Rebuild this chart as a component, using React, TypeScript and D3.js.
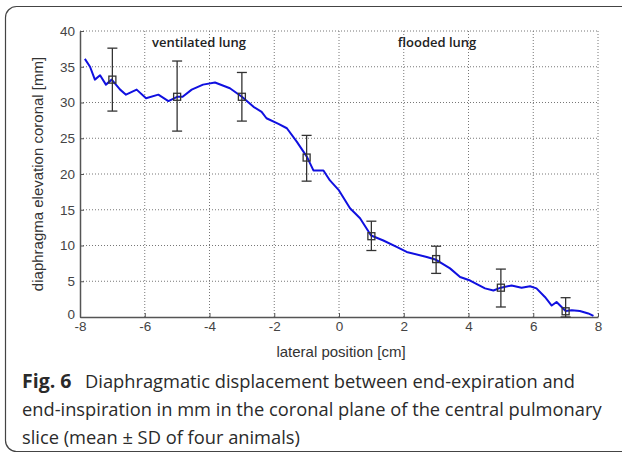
import { useEffect, useRef } from 'react';
import * as d3 from 'd3';

// blue profile line
const curveX = [-7.85, -7.69, -7.54, -7.38, -7.2, -7.02, -6.76, -6.58, -6.25, -5.96, -5.58, -5.27, -5.0, -4.83, -4.55, -4.2, -3.83, -3.37, -3.0, -2.64, -2.39, -2.24, -1.87, -1.61, -1.3, -0.99, -0.79, -0.48, -0.28, 0, 0.34, 0.65, 0.99, 1.37, 1.78, 2.09, 2.71, 3.0, 3.43, 3.74, 4.05, 4.51, 4.77, 5.0, 5.33, 5.64, 5.9, 6.1, 6.36, 6.57, 6.72, 7.0, 7.19, 7.44, 7.7, 7.86];
const curveY = [36.1, 35.0, 33.2, 33.8, 32.5, 33.2, 31.8, 31.1, 31.8, 30.6, 31.1, 30.2, 30.8, 30.8, 31.8, 32.5, 32.8, 32.0, 30.8, 29.4, 28.7, 27.8, 27.0, 26.4, 24.5, 22.4, 20.5, 20.5, 19.1, 17.7, 15.2, 13.8, 11.4, 10.7, 9.8, 9.1, 8.4, 8.0, 6.8, 5.6, 5.1, 4.0, 3.7, 4.1, 4.4, 4.1, 4.3, 4.0, 2.8, 1.6, 2.1, 0.85, 0.95, 0.85, 0.5, 0.15];

// mean ± SD markers
const markerX = [-7, -5, -3, -1, 1, 3, 5, 7];
const markerMean = [33.2, 30.8, 30.8, 22.3, 11.3, 8.1, 4.1, 0.8];
const markerHigh = [37.6, 35.8, 34.2, 25.4, 13.4, 9.9, 6.7, 2.7];
const markerLow = [28.8, 26.0, 27.4, 19.0, 9.3, 6.1, 1.4, 0];

const xTicks = [-8, -6, -4, -2, 0, 2, 4, 6, 8];
const yTicks = [0, 5, 10, 15, 20, 25, 30, 35, 40];

const captionBold = 'Fig. 6';
const captionLines = [
  'Diaphragmatic displacement between end-expiration and',
  'end-inspiration in mm in the coronal plane of the central pulmonary',
  'slice (mean \u00b1 SD of four animals)',
];

const App = () => {
  const svgRef = useRef<SVGSVGElement>(null);

  useEffect(() => {
    const svg = d3.select(svgRef.current);
    svg.selectAll('*').remove();

    const left = 80;
    const right = 598;
    const top = 31;
    const bottom = 317;
    const sans = 'Arial, "Liberation Sans", sans-serif';

    const x = d3.scaleLinear().domain([-8, 8]).range([left, right]);
    const y = d3.scaleLinear().domain([0, 40]).range([bottom, top]);

    // frame
    svg
      .append('rect')
      .attr('x', 5.5)
      .attr('y', 6.5)
      .attr('width', 660)
      .attr('height', 445)
      .attr('rx', 11)
      .attr('fill', 'white')
      .attr('stroke', '#444')
      .attr('stroke-width', 1.2);

    // grid
    const grid = svg.append('g').attr('stroke', '#777').attr('stroke-width', 1).attr('stroke-dasharray', '1,2');
    xTicks.slice(1).forEach((t) => {
      grid.append('line').attr('x1', x(t)).attr('x2', x(t)).attr('y1', top).attr('y2', bottom);
    });
    yTicks.slice(1).forEach((t) => {
      grid.append('line').attr('x1', left).attr('x2', right).attr('y1', y(t)).attr('y2', y(t));
    });

    // axes
    const xAxis = svg
      .append('g')
      .attr('transform', `translate(0,${bottom})`)
      .call(d3.axisBottom(x).tickValues(xTicks).tickSizeInner(-4).tickSizeOuter(0).tickPadding(6));
    const yAxis = svg
      .append('g')
      .attr('transform', `translate(${left},0)`)
      .call(d3.axisLeft(y).tickValues(yTicks).tickSizeInner(-4).tickSizeOuter(0).tickPadding(5));
    [xAxis, yAxis].forEach((a) => {
      a.select('.domain').attr('stroke', '#555').attr('stroke-width', 1.5);
      a.selectAll('.tick line').attr('stroke', '#555');
      a.selectAll('.tick text')
        .attr('fill', '#444')
        .style('font-family', sans)
        .style('font-size', '13.5px');
    });
    xAxis.selectAll('.tick text').attr('dy', '0.6em').text((d: any) => (d < 0 ? '-' + Math.abs(d) : String(d)));
    yAxis.selectAll('.tick text').filter((d: any) => d === 0).attr('dy', '0.1em');

    // curve
    const pts: [number, number][] = curveX.map((v, i) => [v, curveY[i]]);
    svg
      .append('path')
      .datum(pts)
      .attr('fill', 'none')
      .attr('stroke', '#1010e0')
      .attr('stroke-width', 2)
      .attr('stroke-linejoin', 'round')
      .attr('d', d3.line<[number, number]>().x((d) => x(d[0])).y((d) => y(d[1])));

    // error bars
    const eb = svg.append('g').attr('stroke', '#333').attr('stroke-width', 1.3).attr('fill', 'none');
    markerX.forEach((mx, i) => {
      const cx = x(mx);
      eb.append('line').attr('x1', cx).attr('x2', cx).attr('y1', y(markerHigh[i])).attr('y2', y(markerLow[i]));
      eb.append('line').attr('x1', cx - 5).attr('x2', cx + 5).attr('y1', y(markerHigh[i])).attr('y2', y(markerHigh[i]));
      eb.append('line').attr('x1', cx - 5).attr('x2', cx + 5).attr('y1', y(markerLow[i])).attr('y2', y(markerLow[i]));
      eb.append('rect')
        .attr('x', cx - 3.5)
        .attr('y', y(markerMean[i]) - 3.5)
        .attr('width', 7)
        .attr('height', 7);
    });

    // region labels
    const lbl = svg
      .append('g')
      .attr('fill', '#222')
      .attr('text-anchor', 'middle')
      .style('font-family', '"Open Sans", sans-serif')
      .style('font-size', '13px')
      .style('font-weight', '600');
    lbl.append('text').attr('x', 199).attr('y', 47).text('ventilated lung');
    lbl.append('text').attr('x', 437).attr('y', 47).text('flooded lung');

    // axis titles
    svg
      .append('text')
      .attr('transform', `translate(43,${(top + bottom) / 2}) rotate(-90)`)
      .attr('text-anchor', 'middle')
      .attr('fill', '#333')
      .style('font-family', sans)
      .style('font-size', '15px')
      .text('diaphragma elevation coronal [mm]');
    svg
      .append('text')
      .attr('x', 341)
      .attr('y', 357)
      .attr('text-anchor', 'middle')
      .attr('fill', '#333')
      .style('font-family', sans)
      .style('font-size', '15px')
      .text('lateral position [cm]');

    // caption
    const cap = svg
      .append('g')
      .attr('fill', '#2a2a2a')
      .style('font-family', '"Open Sans", sans-serif')
      .style('font-size', '18.3px');
    cap.append('text')
      .attr('x', 22)
      .attr('y', 388)
      .style('font-weight', '700')
      .style('font-size', '19.5px')
      .text(captionBold);
    captionLines.forEach((ln, i) => {
      cap.append('text')
        .attr('x', i === 0 ? 85 : 22)
        .attr('y', 388 + i * 28)
        .text(ln);
    });
  }, []);

  return (
    <svg
      ref={svgRef}
      width={622}
      height={455}
      style={{ position: 'absolute', left: 0, top: 0, display: 'block' }}
    />
  );
};

export default App;
